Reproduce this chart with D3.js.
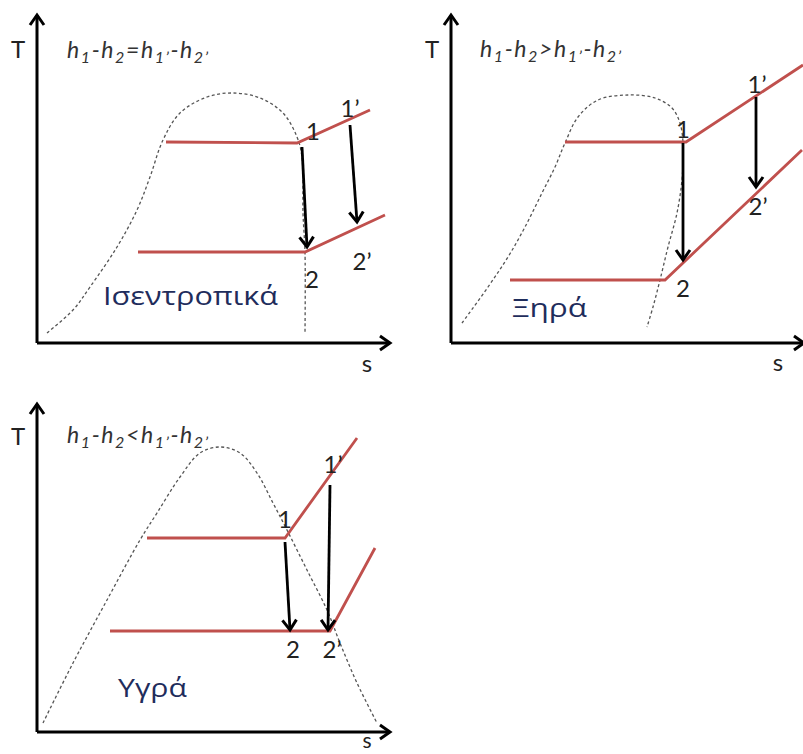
<!DOCTYPE html>
<html>
<head>
<meta charset="utf-8">
<script src="https://cdn.jsdelivr.net/npm/d3@7"></script>
<style>
  body { margin: 0; background: #fff; }
  svg { display: block; }
</style>
</head>
<body>
<div id="chart"></div>
<script>
// T-s diagrams of an ORC expansion for isentropic, dry and wet fluids
const fluidNames = ["Ισεντροπικά", "Ξηρά", "Υγρά"];
const relations = ["=", ">", "<"];

// saturation dome, [s, T]
const domeIsentropic = [[1.0, 1.0], [3.6, 3.3], [5.3, 5.6], [8.0, 9.6], [10.0, 13.3], [11.3, 16.6], [12.6, 20.3],
  [14.3, 23.0], [17.0, 24.6], [19.6, 25.0], [22.3, 24.5], [24.6, 23.0], [26.0, 20.6], [26.5, 18.6],
  [26.6, 13.0], [26.8, 9.0], [26.8, 1.0]];
const domeDry = [[1.1, 2.0], [3.7, 5.6], [5.7, 8.6], [7.4, 11.6], [9.1, 15.0], [10.4, 17.6], [11.4, 20.0],
  [12.7, 22.6], [14.7, 24.3], [17.7, 24.8], [20.4, 24.5], [22.1, 23.5], [22.9, 22.0], [23.2, 20.1],
  [23.2, 18.3], [23.1, 16.3], [22.6, 13.0], [21.7, 9.6], [20.9, 6.3], [20.2, 3.6], [19.6, 1.6]];
const domeWet = [[0.6, 0.9], [3.6, 6.9], [7.0, 13.2], [10.3, 19.2], [12.0, 21.9], [14.3, 25.5], [16.3, 27.9],
  [18.3, 28.5], [20.3, 27.9], [22.0, 25.9], [23.6, 22.9], [25.0, 20.2], [27.0, 16.2], [29.0, 12.2],
  [30.3, 8.9], [32.0, 4.9], [34.0, 0.9]];

// high and low pressure isobars
const highIsentropic = [[12.9, 20.1], [26.0, 20.0], [33.3, 23.3]];
const lowIsentropic = [[10.1, 9.1], [26.8, 9.1], [34.8, 12.8]];
const highDry = [[11.4, 20.1], [23.5, 20.1], [35.2, 27.8]];
const lowDry = [[5.9, 6.3], [21.4, 6.3], [35.1, 19.3]];
const highWet = [[11.0, 19.4], [24.8, 19.4], [32.0, 29.4]];
const lowWet = [[7.3, 10.1], [29.3, 10.1], [33.8, 18.4]];

// expansions 1->2 and 1'->2'
const expIsentropic = [[[26.5, 19.6], [27.0, 9.6]], [[31.3, 21.8], [32.0, 12.1]]];
const expDry = [[[23.2, 20.0], [23.2, 8.3]], [[30.5, 24.6], [30.5, 15.6]]];
const expWet = [[[24.8, 19.0], [25.3, 10.2]], [[29.3, 24.7], [29.1, 10.2]]];

// state points 1, 1', 2, 2'
const stateNames = ["1", "1’", "2", "2’"];
const stateIsentropic = [[27.6, 21.3], [31.3, 23.6], [27.5, 6.5], [32.5, 8.3]];
const stateDry = [[23.2, 21.5], [30.6, 26.0], [23.2, 5.6], [30.7, 13.8]];
const stateWet = [[24.8, 21.4], [29.6, 26.9], [25.6, 8.4], [29.5, 8.4]];

const panels = [
  { origin: [37, 343], dome: domeIsentropic, high: highIsentropic, low: lowIsentropic, exp: expIsentropic,
    states: stateIsentropic, name: [6.6, 3.8], nameLen: 175, title: [3.0, 28.5], sLab: [33.0, -1.9], tLab: [-1.9, 29.5] },
  { origin: [451, 343], dome: domeDry, high: highDry, low: lowDry, exp: expDry,
    states: stateDry, name: [6.1, 2.6], nameLen: 75, title: [2.9, 28.6], sLab: [32.7, -1.8], tLab: [-1.9, 29.5] },
  { origin: [37, 732], dome: domeWet, high: highWet, low: lowWet, exp: expWet,
    states: stateWet, name: [8.1, 3.5], nameLen: 69, title: [3.0, 28.9], sLab: [33.0, -0.75], tLab: [-1.9, 29.7] }
];

const width = 803, height = 754;
const sMax = 35.3, tMax = 32.8;

const x = d3.scaleLinear().domain([0, 10]).range([0, 100]);
const y = d3.scaleLinear().domain([0, 10]).range([0, -100]);

const svg = d3.select('#chart').append('svg')
  .attr('width', width)
  .attr('height', height);

const defs = svg.append('defs');
defs.append('marker')
  .attr('id', 'head')
  .attr('viewBox', '-13 -10 16 20')
  .attr('refX', 0).attr('refY', 0)
  .attr('markerWidth', 16).attr('markerHeight', 20)
  .attr('markerUnits', 'userSpaceOnUse')
  .attr('orient', 'auto')
  .style('overflow', 'visible')
  .append('path')
  .attr('d', 'M-10,-7L0,0L-10,7')
  .attr('fill', 'none')
  .attr('stroke', '#000')
  .attr('stroke-width', 3);

const line = d3.line().x(d => x(d[0])).y(d => y(d[1]));
const curve = d3.line().x(d => x(d[0])).y(d => y(d[1])).curve(d3.curveCatmullRom);

panels.forEach((p, i) => {
  const g = svg.append('g').attr('transform', 'translate(' + p.origin[0] + ',' + p.origin[1] + ')');

  // dome
  g.append('path')
    .attr('d', curve(p.dome))
    .attr('fill', 'none')
    .attr('stroke', '#555')
    .attr('stroke-width', 1.3)
    .attr('stroke-dasharray', '3,2.5');

  // isobars
  g.selectAll('.isobar')
    .data([p.high, p.low])
    .enter()
    .append('path')
    .attr('class', 'isobar')
    .attr('d', d => line(d))
    .attr('fill', 'none')
    .attr('stroke', '#c0504d')
    .attr('stroke-width', 2.8);

  // expansion arrows
  g.selectAll('.exp')
    .data(p.exp)
    .enter()
    .append('path')
    .attr('class', 'exp')
    .attr('d', d => line(d))
    .attr('stroke', '#000')
    .attr('stroke-width', 2.8)
    .attr('marker-end', 'url(#head)');

  // axes
  g.append('path')
    .attr('d', line([[0, 0], [0, tMax]]))
    .attr('stroke', '#000').attr('stroke-width', 3)
    .attr('marker-end', 'url(#head)');
  g.append('path')
    .attr('d', line([[0, 0], [sMax, 0]]))
    .attr('stroke', '#000').attr('stroke-width', 3)
    .attr('marker-end', 'url(#head)');

  g.append('text')
    .attr('x', x(p.tLab[0])).attr('y', y(p.tLab[1]))
    .attr('text-anchor', 'middle').attr('dominant-baseline', 'central')
    .style('font-family', 'Lato, "Open Sans", sans-serif').style('font-size', '24px')
    .attr('fill', '#222')
    .text('T');
  g.append('text')
    .attr('x', x(p.sLab[0])).attr('y', y(p.sLab[1]))
    .attr('text-anchor', 'middle').attr('dominant-baseline', 'central')
    .style('font-family', 'Lato, "Open Sans", sans-serif').style('font-size', i === 2 ? '21px' : '24px')
    .attr('fill', '#222')
    .text('s');

  // state labels
  g.selectAll('.state')
    .data(p.states)
    .enter()
    .append('text')
    .attr('class', 'state')
    .attr('x', d => x(d[0])).attr('y', d => y(d[1]))
    .attr('text-anchor', 'middle').attr('dominant-baseline', 'central')
    .style('font-family', 'Lato, "Open Sans", sans-serif').style('font-size', '24px')
    .attr('fill', '#222')
    .text((d, k) => stateNames[k]);

  // title  h1-h2 ? h1'-h2'
  const parts = [['h', 0], ['1', 1], ['-', 0], ['h', 0], ['2', 1], [relations[i], 0],
    ['h', 0], ['1’', 1], ['-', 0], ['h', 0], ['2’', 1]];
  const t = g.append('text')
    .attr('x', x(p.title[0])).attr('y', y(p.title[1]))
    .attr('textLength', 141).attr('lengthAdjust', 'spacing')
    .style('font-family', 'Lato, "Open Sans", sans-serif').style('font-style', 'italic')
    .style('font-size', '23px')
    .attr('fill', '#333');
  let prev = 0;
  parts.forEach(q => {
    t.append('tspan')
      .attr('dy', (q[1] - prev) * 5)
      .style('font-size', q[1] ? '16px' : '23px')
      .text(q[0]);
    prev = q[1];
  });

  // fluid name
  g.append('text')
    .attr('x', x(p.name[0])).attr('y', y(p.name[1]))
    .attr('textLength', p.nameLen).attr('lengthAdjust', 'spacingAndGlyphs')
    .style('font-family', '"Open Sans", "Noto Sans", sans-serif').style('font-size', '25px')
    .attr('fill', '#1f2d5c')
    .text(fluidNames[i]);
});
</script>
</body>
</html>
